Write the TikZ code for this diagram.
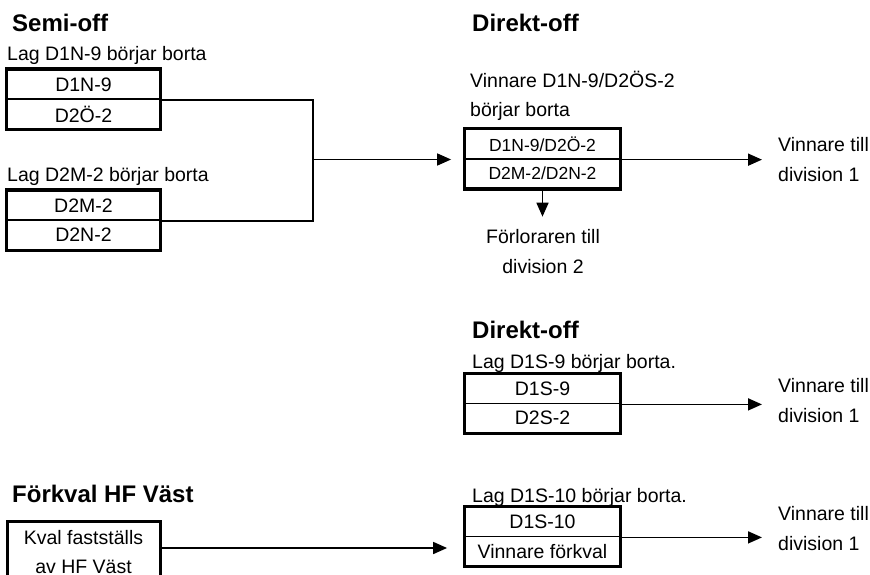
\documentclass[tikz,border=0pt]{standalone}
\usepackage{fontspec}
\setmainfont{Liberation Sans}
\usetikzlibrary{arrows.meta,calc}
\tikzset{ 
   line/.style  = {-, line width=2.6pt, line join=miter},
   frame/.style = {line width=3pt},
   arrow/.style = {-{Triangle[length=14pt,width=12pt]}, line width=1.7pt},
   teambox/.style = {draw, line width=1.8pt, minimum width=153pt, minimum height=29.5pt,
                     inner sep=0pt, font=\fontsize{19.5}{22}\selectfont},
   widebox/.style = {teambox, minimum width=155pt},
   smallbox/.style = {widebox, font=\fontsize{17.5}{20}\selectfont},
   txt/.style   = {anchor=base west, inner sep=0pt, font=\fontsize{19.5}{22}\selectfont},
   heading/.style = {anchor=base west, inner sep=0pt, font=\bfseries\fontsize{24}{26}\selectfont},
}

\begin{document}
\begin{tikzpicture}[x=1pt, y=-1pt]
      \clip (0,0) rectangle (870,575);

      % semi-off
      \node[heading] (semi) at (12,32) {Semi-off};
      \node[txt] (lagA) at (7,61) {Lag D1N-9 börjar borta};
      \node[teambox] (d1n) at (83.5,84.5) {D1N-9};
      \node[teambox] (d2o) at (83.5,114) {D2Ö-2};
      \draw[frame] (d1n.north west) rectangle (d2o.south east);

      \node[txt] (lagB) at (7,181) {Lag D2M-2 börjar borta};
      \node[teambox] (d2m) at (83.5,205.5) {D2M-2};
      \node[teambox] (d2n) at (83.5,235) {D2N-2};
      \draw[frame] (d2m.north west) rectangle (d2n.south east);

      \coordinate (join) at (313,159.5);
      \draw[line] (d1n.south east) -| (join) |- (d2m.south east);

      % direkt-off, upper
      \node[heading] (direktA) at (472,32) {Direkt-off};
      \node[txt] (vinA) at (470,88) {Vinnare D1N-9/D2ÖS-2};
      \node[txt] (vinB) at (470,117) {börjar borta};
      \node[smallbox] (fin1) at (542.5,144) {D1N-9/D2Ö-2};
      \node[smallbox] (fin2) at (542.5,173.5) {D2M-2/D2N-2};
      \draw[frame] (fin1.north west) rectangle (fin2.south east);

      \node[txt] (winA1) at (778,152) {Vinnare till};
      \node[txt] (winA2) at (778,182) {division 1};
      \node[txt, anchor=base] (loseA) at (543,243) {Förloraren till};
      \node[txt, anchor=base] (loseB) at (543,273) {division 2};

      \draw[arrow, shorten >=13pt] (join) -- (join -| fin1.south west);
      \draw[arrow, shorten >=16pt] (fin1.south east) -- (fin1.south east -| winA1.west);
      \draw[arrow, shorten >=12pt] (fin2.south) -- (fin2.south |- loseA.north);

      % direkt-off, lower
      \node[heading] (direktB) at (472,338) {Direkt-off};
      \node[txt] (lagC) at (472,368) {Lag D1S-9 börjar borta.};
      \node[widebox] (d1s9) at (542.5,388.75) {D1S-9};
      \node[widebox] (d2s2) at (542.5,418.25) {D2S-2};
      \draw[frame] (d1s9.north west) rectangle (d2s2.south east);
      \node[txt] (winB1) at (778,392) {Vinnare till};
      \node[txt] (winB2) at (778,422) {division 1};
      \draw[arrow, shorten >=16pt] (d1s9.south east) -- (d1s9.south east -| winB1.west);

      \node[txt] (lagD) at (472,502) {Lag D1S-10 börjar borta.};
      \node[widebox] (d1s10) at (542.5,521.75) {D1S-10};
      \node[widebox] (vf) at (542.5,551.25) {Vinnare förkval};
      \draw[frame] (d1s10.north west) rectangle (vf.south east);
      \node[txt] (winC1) at (778,520) {Vinnare till};
      \node[txt] (winC2) at (778,550) {division 1};
      \draw[arrow, shorten >=16pt] (d1s10.south east) -- (d1s10.south east -| winC1.west);

      % förkval
      \node[heading] (forkval) at (12,502) {Förkval HF Väst};
      \node[draw, frame, minimum width=153pt, minimum height=62pt, align=center,
            inner sep=0pt, font=\fontsize{19.5}{29}\selectfont] (kval) at (83.5,552)
            {Kval fastställs\\av HF Väst};
      \coordinate (kvalout) at ([yshift=4pt]kval.east);
      \draw[arrow, shorten >=17pt] (kvalout) -- (kvalout -| vf.west);
   \end{tikzpicture}
\end{document}
